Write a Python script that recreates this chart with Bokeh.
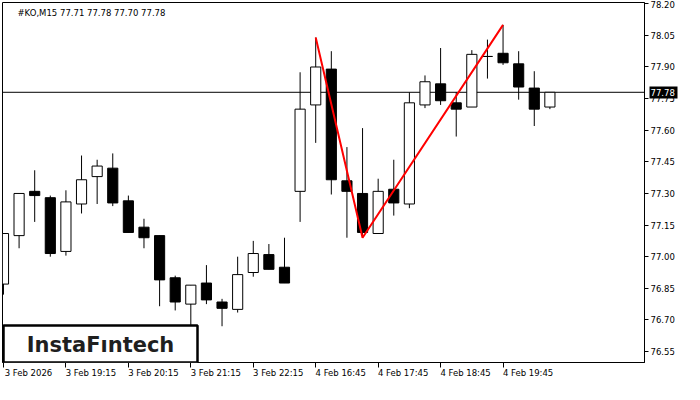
from bokeh.plotting import figure
from bokeh.models import (Range1d, FixedTicker, Label, Span, BoxAnnotation, LinearAxis,
                          CustomJSTickFormatter, NumeralTickFormatter, ColumnDataSource)
from bokeh.embed import file_html
from bokeh.resources import INLINE

title_text = "#KO,M15  77.71 77.78 77.70 77.78"
logo_text = "InstaF\u0131ntech"

opens = [76.87, 77.10, 77.31, 77.28, 77.025, 77.25, 77.38, 77.42, 77.265, 77.14,
         77.10, 76.90, 76.775, 76.875, 76.785, 76.75, 76.925, 77.01, 76.95, 77.31,
         77.72, 77.89, 77.36, 77.30, 77.11, 77.32, 77.25, 77.72, 77.82, 77.73,
         77.71, 77.95, 77.965, 77.915, 77.80, 77.71]
highs = [77.11, 77.30, 77.41, 77.29, 77.315, 77.48, 77.46, 77.49, 77.29, 77.18,
         77.10, 76.91, 76.865, 76.96, 76.80, 77.00, 77.075, 77.06, 77.09, 77.875,
         78.04, 77.975, 77.52, 77.61, 77.37, 77.46, 77.78, 77.86, 77.99, 77.78,
         77.98, 78.03, 78.10, 77.975, 77.88, 77.78]
lows = [76.82, 77.04, 77.165, 77.00, 77.005, 77.205, 77.25, 77.24, 77.115, 77.04,
        76.765, 76.745, 76.66, 76.775, 76.67, 76.735, 76.905, 76.94, 76.875, 77.165,
        77.54, 77.295, 77.09, 77.095, 77.11, 77.195, 77.23, 77.705, 77.72, 77.57,
        77.71, 77.845, 77.91, 77.745, 77.62, 77.70]
closes = [77.11, 77.30, 77.29, 77.015, 77.26, 77.365, 77.43, 77.255, 77.115, 77.09,
          76.89, 76.785, 76.865, 76.795, 76.755, 76.915, 77.015, 76.94, 76.875, 77.70,
          77.90, 77.365, 77.31, 77.115, 77.31, 77.255, 77.73, 77.83, 77.74, 77.70,
          77.96, 77.95, 77.92, 77.805, 77.70, 77.78]

tick_idx = [0, 4, 8, 12, 16, 20, 24, 28, 32]
tick_labels = ["3 Feb 2026", "3 Feb 19:15", "3 Feb 20:15", "3 Feb 21:15", "3 Feb 22:15",
               "4 Feb 16:45", "4 Feb 17:45", "4 Feb 18:45", "4 Feb 19:45"]
y_ticks = [76.55, 76.70, 76.85, 77.00, 77.15, 77.30, 77.45, 77.60, 77.75, 77.90, 78.05, 78.20]

pattern_idx = [20, 23, 32]
pattern_price = [78.04, 77.09, 78.10]
last_price = 77.78

idx = list(range(len(opens)))
tops = [max(o, c) for o, c in zip(opens, closes)]
bots = [min(o, c) for o, c in zip(opens, closes)]
fills = ["white" if c >= o else "black" for o, c in zip(opens, closes)]
src = ColumnDataSource(dict(x=idx, o=opens, h=highs, l=lows, c=closes,
                            top=tops, bot=bots, fill=fills))

FONT = "DejaVu Sans"
FS = "8.5px"
x0, x1 = -0.0625, 41.06
y0, y1 = 76.498, 78.206
W, H = 684, 384
B_LEFT, B_TOP, B_RIGHT, B_BOTTOM = 2, 2, 40, 22
px_per_x = (W - B_LEFT - B_RIGHT) / (x1 - x0)

p = figure(width=W, height=H, x_range=Range1d(x0, x1), y_range=Range1d(y0, y1),
           y_axis_location="right", output_backend="svg", toolbar_location=None,
           min_border_left=B_LEFT, min_border_top=B_TOP,
           min_border_right=B_RIGHT, min_border_bottom=B_BOTTOM)
p.grid.visible = False
p.outline_line_color = "black"
p.outline_line_width = 1
p.background_fill_color = "white"
p.border_fill_color = "white"

# right price axis
ya = p.yaxis[0]
ya.ticker = FixedTicker(ticks=y_ticks)
ya.formatter = NumeralTickFormatter(format="0.00")
ya.major_tick_out = 4
ya.major_tick_in = 0
ya.minor_tick_out = 0
ya.minor_tick_in = 0
ya.axis_line_color = "black"
ya.major_tick_line_color = "black"
ya.major_label_text_font = FONT
ya.major_label_text_font_size = FS
ya.major_label_text_color = "black"
ya.major_label_standoff = 2

# last price box: second right axis stacked after the price axis; its single
# thick inward tick reaches back to the frame edge and carries a white label
main_ext = 4 + 2 + 24
box_axis = LinearAxis(ticker=FixedTicker(ticks=[last_price]),
                      formatter=NumeralTickFormatter(format="0.00"),
                      axis_line_color=None,
                      major_tick_out=0, major_tick_in=main_ext - 2,
                      major_tick_line_color="black", major_tick_line_width=12,
                      major_tick_line_cap="butt",
                      minor_tick_out=0, minor_tick_in=0,
                      major_label_standoff=-(main_ext - 3),
                      major_label_text_font=FONT, major_label_text_font_size=FS,
                      major_label_text_color="white")
p.add_layout(box_axis, "right")

# bottom time axis: tick marks
xa = p.xaxis[0]
xa.ticker = FixedTicker(ticks=tick_idx)
xa.formatter = CustomJSTickFormatter(code="return ''")
xa.major_tick_out = 5
xa.major_tick_in = 0
xa.minor_tick_out = 0
xa.minor_tick_in = 0
xa.major_label_standoff = 0
xa.axis_line_color = "black"
xa.major_tick_line_color = "black"

# bottom time axis: labels starting at each tick
shift = 25 / px_per_x
lab_axis = LinearAxis(ticker=FixedTicker(ticks=[t + shift for t in tick_idx]),
                      formatter=CustomJSTickFormatter(
                          args=dict(labs=tick_labels, tpos=tick_idx, sh=shift),
                          code="""
for (let i = 0; i < tpos.length; i++) {
  if (Math.abs(tpos[i] + sh - tick) < 1e-6) { return labs[i]; }
}
return '';"""),
                      axis_line_color=None, major_tick_line_color=None,
                      minor_tick_line_color=None, major_tick_out=0, major_tick_in=0,
                      major_label_standoff=0,
                      major_label_text_font=FONT, major_label_text_font_size=FS,
                      major_label_text_color="black")
p.add_layout(lab_axis, "below")

# bid line
p.add_layout(Span(location=last_price, dimension="width", line_color="black",
                  line_width=1, level="underlay"))

# candles
p.segment(x0="x", y0="h", x1="x", y1="l", source=src, line_color="black", line_width=1)
p.vbar(x="x", top="top", bottom="bot", width=0.65, source=src,
       fill_color="fill", line_color="black", line_width=1)

# double top pattern
p.line(pattern_idx, pattern_price, line_color="#ff0000", line_width=2)

# title
p.add_layout(Label(x=x0, y=y1, text=title_text, x_offset=15, y_offset=-5,
                   text_align="left", text_baseline="top", text_font=FONT,
                   text_font_size=FS, text_color="black"))

# logo
p.add_layout(BoxAnnotation(left=1, right=195, bottom=0, top=37,
                           left_units="screen", right_units="screen",
                           bottom_units="screen", top_units="screen",
                           fill_color="white", fill_alpha=1.0,
                           line_color="black", line_width=2.5, line_alpha=1.0))
p.add_layout(Label(x=98, y=18, x_units="screen", y_units="screen", text=logo_text,
                   text_align="center", text_baseline="middle", text_font=FONT,
                   text_font_style="bold", text_font_size="21px", text_color="#1f1f1f"))

open("out.html", "w").write(file_html(p, INLINE))
